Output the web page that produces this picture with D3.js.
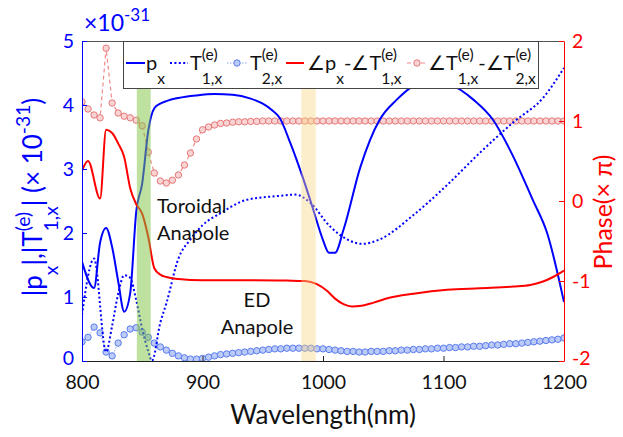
<!DOCTYPE html>
<html><head><meta charset="utf-8">
<script src="https://cdn.jsdelivr.net/npm/d3@7"></script>
<style>body{margin:0;background:#fff} svg{display:block} text{font-family:Lato,'Open Sans',sans-serif;white-space:pre}</style>
</head><body><svg id="c" width="623" height="437"></svg>
<script>
// ---- data ----
const wavelength = d3.range(800, 1201, 5); // 5 nm sampling grid of the marker series
const t2Values = [
  0.30,0.37,0.53,0.44,0.14,0.08,0.28,0.41,0.50,0.52,
  0.45,0.37,0.28,0.22,0.17,0.12,0.08,0.05,0.03,0.03,
  0.04,0.06,0.08,0.10,0.11,0.12,0.13,0.14,0.15,0.16,
  0.17,0.18,0.19,0.19,0.20,0.20,0.20,0.20,0.20,0.19,
  0.19,0.18,0.17,0.16,0.15,0.15,0.14,0.14,0.15,0.15,
  0.15,0.16,0.16,0.17,0.17,0.18,0.18,0.19,0.19,0.20,
  0.20,0.21,0.21,0.22,0.22,0.23,0.23,0.24,0.25,0.25,
  0.26,0.27,0.27,0.28,0.29,0.30,0.31,0.32,0.33,0.34,
  0.36];
const phaseT1T2 = [
  1.24,1.15,1.075,1.04,1.91,1.225,1.10,1.06,1.04,1.01,
  0.94,0.61,0.35,0.25,0.225,0.26,0.325,0.45,0.60,0.775,
  0.89,0.925,0.95,0.97,0.975,0.985,0.99,0.99,0.995,0.995,
  1.00,1.00,1.00,1.00,1.00,1.00,1.00,1.00,1.00,1.00,
  1.00,1.00,1.00,1.00,1.00,1.00,1.00,1.00,1.00,1.00,
  1.00,1.00,1.00,1.00,1.00,1.00,1.00,1.00,1.00,1.00,
  1.00,1.00,1.00,1.00,1.00,1.00,1.00,1.00,1.00,1.00,
  1.00,1.00,1.00,1.00,1.00,1.00,1.00,1.00,1.00,1.00,
  1.00];
const pxWl =     [800,810,815,820,825,830,835,840,845,850,855,860,865,870,880,895,910,925,940,950,957,964,973,983,992,1000,1005,1010,1017,1031,1047,1061,1075,1090,1105,1125,1141,1158,1174,1186,1200];
const pxValues = [1.55,1.14,1.85,2.08,1.78,1.25,0.77,1.06,2.33,2.78,3.6,3.95,4.02,4.06,4.11,4.15,4.17,4.16,4.1,4.02,3.93,3.8,3.4,2.88,2.36,1.89,1.69,1.69,2.05,3.03,3.77,4.08,4.3,4.4,4.33,4.08,3.77,3.19,2.52,2.0,0.92];
const t1Wl =     [800,810,820,825,830,835,840,845,850,855,858,865,870,880,890,900,915,937,964,977,989,1006,1020,1033,1047,1075,1103,1130,1158,1183,1200];
const t1Values = [0.72,1.6,0.14,0.55,1.05,1.34,1.3,0.95,0.5,0.15,0.0,0.6,0.9,1.6,1.9,2.12,2.31,2.52,2.58,2.6,2.48,2.1,1.9,1.83,1.9,2.28,2.75,3.25,3.73,4.12,4.58];
const phPxWl =   [800,805,815,820,825,830,835,840,845,850,855,860,865,870,880,900,940,970,985,995,1003,1010,1017,1024,1032,1042,1055,1075,1103,1130,1158,1172,1182,1191,1200];
const phPxT1 =   [0.38,0.5,0.03,0.89,0.85,0.72,0.55,0.16,-0.04,-0.16,-0.45,-0.84,-0.92,-0.95,-0.975,-0.99,-0.99,-0.995,-1.0,-1.04,-1.12,-1.22,-1.29,-1.32,-1.31,-1.27,-1.21,-1.16,-1.11,-1.09,-1.07,-1.05,-1.01,-0.95,-0.87];
const xTicks = [800,900,1000,1100,1200];
const yLeftTicks = [0,1,2,3,4,5];
const yRightTicks = [-2,-1,0,1,2];
const bandGreen = [845.5, 857];
const bandYellow = [982, 994];

// ---- layout ----
const svg = d3.select('#c');
const M = {l:82, r:564, t:41, b:361};
const x = d3.scaleLinear().domain([800,1200]).range([M.l, M.r]);
const yL = d3.scaleLinear().domain([0,5]).range([M.b, M.t]);
const yR = d3.scaleLinear().domain([-2,2]).range([M.b, M.t]);
const BLUE = '#0000ff', RED = '#ff0000';

const plot = svg.append('g');
plot.append('defs').append('clipPath').attr('id','clip').append('rect')
  .attr('x',M.l).attr('y',M.t).attr('width',M.r-M.l).attr('height',M.b-M.t);
const P = plot.append('g').attr('clip-path','url(#clip)');

// T2 marker series
const t2 = wavelength.map((w,i)=>[w,t2Values[i]]);
P.append('path').datum(t2).attr('fill','none').attr('stroke','#8ea6f2').attr('stroke-width',1)
  .attr('stroke-dasharray','1.5,1.5')
  .attr('d', d3.line().x(d=>x(d[0])).y(d=>yL(d[1])));
P.selectAll('.c2').data(t2).join('circle').attr('cx',d=>x(d[0])).attr('cy',d=>yL(d[1])).attr('r',3.2)
  .attr('fill','#bccbf6').attr('stroke','#5a7cf0').attr('stroke-width',1);

// phase T1-T2 marker series
const ph2 = wavelength.map((w,i)=>[w,phaseT1T2[i]]);
P.append('path').datum(ph2).attr('fill','none').attr('stroke','#f08a8a').attr('stroke-width',1.2)
  .attr('stroke-dasharray','4,3')
  .attr('d', d3.line().x(d=>x(d[0])).y(d=>yR(d[1])));
P.selectAll('.c1').data(ph2).join('circle').attr('cx',d=>x(d[0])).attr('cy',d=>yR(d[1])).attr('r',3.2)
  .attr('fill','#f8d4d4').attr('stroke','#e77878').attr('stroke-width',1);

// T1 dotted
P.append('path').datum(t1Wl.map((w,i)=>[w,t1Values[i]])).attr('fill','none').attr('stroke',BLUE)
  .attr('stroke-width',2).attr('stroke-dasharray','2,2.4')
  .attr('d', d3.line().curve(d3.curveMonotoneX).x(d=>x(d[0])).y(d=>yL(d[1])));
// px solid
P.append('path').datum(pxWl.map((w,i)=>[w,pxValues[i]])).attr('fill','none').attr('stroke',BLUE)
  .attr('stroke-width',2)
  .attr('d', d3.line().curve(d3.curveMonotoneX).x(d=>x(d[0])).y(d=>yL(d[1])));
// phase px - T1
P.append('path').datum(phPxWl.map((w,i)=>[w,phPxT1[i]])).attr('fill','none').attr('stroke',RED)
  .attr('stroke-width',2)
  .attr('d', d3.line().curve(d3.curveMonotoneX).x(d=>x(d[0])).y(d=>yR(d[1])));

// bands (translucent, on top)
P.append('rect').attr('x',x(bandGreen[0])).attr('width',x(bandGreen[1])-x(bandGreen[0]))
  .attr('y',M.t).attr('height',M.b-M.t).attr('fill','rgb(125,195,65)').attr('fill-opacity',0.5);
P.append('rect').attr('x',x(bandYellow[0])).attr('width',x(bandYellow[1])-x(bandYellow[0]))
  .attr('y',M.t).attr('height',M.b-M.t).attr('fill','rgb(251,215,130)').attr('fill-opacity',0.42);

// ---- axes ----
svg.append('line').attr('x1',M.l).attr('x2',M.r).attr('y1',M.t+0.5).attr('y2',M.t+0.5).attr('stroke','#555').attr('stroke-width',1);
const ax = svg.append('g').attr('transform',`translate(0,${M.b})`)
  .call(d3.axisBottom(x).tickValues(xTicks).tickSize(-5).tickSizeOuter(0).tickPadding(14).tickFormat(d=>String(d)));
ax.select('.domain').attr('stroke','#222');
ax.selectAll('line').attr('stroke','#222');
ax.selectAll('text').attr('font-size',19.5).attr('fill','#111').attr('font-family','Lato');

const al = svg.append('g').attr('transform',`translate(${M.l},0)`)
  .call(d3.axisLeft(yL).tickValues(yLeftTicks).tickSize(-5).tickSizeOuter(0).tickPadding(8).tickFormat(d=>String(d)));
al.select('.domain').attr('stroke',BLUE);
al.selectAll('line').attr('stroke',BLUE);
al.selectAll('text').attr('font-size',19.5).attr('fill',BLUE).attr('font-family','Lato');
al.selectAll('.tick').filter(d=>d===0).select('text').attr('dy','0.2em');

const ar = svg.append('g').attr('transform',`translate(${M.r},0)`)
  .call(d3.axisRight(yR).tickValues(yRightTicks).tickSize(-5).tickSizeOuter(0).tickPadding(8).tickFormat(d=>String(d)));
ar.select('.domain').attr('stroke',RED);
ar.selectAll('line').attr('stroke',RED);
ar.selectAll('text').attr('font-size',19.5).attr('fill',RED).attr('font-family','Lato');
ar.selectAll('.tick').filter(d=>d===-2).select('text').attr('dy','0.2em');

// ---- rich text helper ----
function rich(parent, x0, y0, parts, size, color, anchor, supK, subK, ssK){
  supK = supK==null?0.45:supK; subK = subK==null?0.62:subK; ssK = ssK==null?0.74:ssK;
  const g = parent.append('g');
  let cx = 0; const ss = size*ssK;
  parts.forEach(p=>{
    if (typeof p === 'string'){
      const t = g.append('text').attr('x',cx).attr('y',0).attr('font-size',size).attr('fill',color).text(p);
      cx += t.node().getComputedTextLength();
    } else {
      let w = 0;
      if (p.sup!=null){const t=g.append('text').attr('x',cx).attr('y',-size*supK).attr('font-size',ss).attr('fill',color).text(p.sup); w=Math.max(w,t.node().getComputedTextLength());}
      if (p.sub!=null){const t=g.append('text').attr('x',cx).attr('y',size*subK).attr('font-size',ss).attr('fill',color).text(p.sub); w=Math.max(w,t.node().getComputedTextLength());}
      cx += w;
    }
  });
  const dx = anchor==='middle' ? -cx/2 : anchor==='end' ? -cx : 0;
  g.attr('transform',`translate(${x0+dx},${y0})`);
  return g;
}

// ---- legend ----
const lg = svg.append('g');
lg.append('rect').attr('x',123.5).attr('y',41.5).attr('width',415).attr('height',47).attr('fill','#fff').attr('stroke','#444').attr('stroke-width',1);
const ly = 63;
lg.append('line').attr('x1',126).attr('x2',145).attr('y1',ly).attr('y2',ly).attr('stroke',BLUE).attr('stroke-width',2);
lg.append('line').attr('x1',170).attr('x2',188).attr('y1',ly).attr('y2',ly).attr('stroke',BLUE).attr('stroke-width',2).attr('stroke-dasharray','2,2.4');
lg.append('line').attr('x1',227).attr('x2',248).attr('y1',ly).attr('y2',ly).attr('stroke','#8ea6f2').attr('stroke-width',1).attr('stroke-dasharray','1.5,1.5');
lg.append('circle').attr('cx',237).attr('cy',ly).attr('r',3.2).attr('fill','#bccbf6').attr('stroke','#5a7cf0');
lg.append('line').attr('x1',286).attr('x2',304).attr('y1',ly).attr('y2',ly).attr('stroke',RED).attr('stroke-width',2);
lg.append('line').attr('x1',407).attr('x2',427).attr('y1',ly).attr('y2',ly).attr('stroke','#f08a8a').attr('stroke-width',1.2).attr('stroke-dasharray','4,3');
lg.append('circle').attr('cx',417).attr('cy',ly).attr('r',3.2).attr('fill','#f8d4d4').attr('stroke','#e77878');
const LS = 20, LB = 70;
rich(lg,146,LB,['p',{sub:'x'}],LS,'#111','start',0.5,0.72,0.78);
rich(lg,190,LB,['T',{sup:'(e)',sub:'1,x'}],LS,'#111','start',0.5,0.72,0.78);
rich(lg,250,LB,['T',{sup:'(e)',sub:'2,x'}],LS,'#111','start',0.5,0.72,0.78);
rich(lg,307,LB,['∠p',{sub:'x'},'-∠T',{sup:'(e)',sub:'1,x'}],LS,'#111','start',0.5,0.72,0.78);
rich(lg,428,LB,['∠T',{sup:'(e)',sub:'1,x'},'-∠T',{sup:'(e)',sub:'2,x'}],LS,'#111','start',0.5,0.72,0.78);

// ---- titles & annotations ----
rich(svg,84,31,['×10',{sup:'-31'}],23,BLUE,'start',0.45);
const lt = svg.append('g').attr('transform','translate(42,197) rotate(-90)');
rich(lt,0,0,['|p',{sub:'x'},'|,|T',{sup:'(e)',sub:'1,x'},'| (× 10',{sup:'-31'},')'],26,BLUE,'middle');
const rt = svg.append('g').attr('transform','translate(612,212) rotate(-90)');
rich(rt,0,0,['Phase(× π)'],25,RED,'middle');
svg.append('text').attr('x',323).attr('y',424).attr('text-anchor','middle').attr('font-size',26).attr('fill','#111').text('Wavelength(nm)');

svg.append('text').attr('x',157).attr('y',213).attr('font-size',20).attr('fill','#111').text('Toroidal');
svg.append('text').attr('x',157).attr('y',240).attr('font-size',20).attr('fill','#111').text('Anapole');
svg.append('text').attr('x',257).attr('y',307).attr('text-anchor','middle').attr('font-size',20).attr('fill','#111').text('ED');
svg.append('text').attr('x',257).attr('y',334).attr('text-anchor','middle').attr('font-size',20).attr('fill','#111').text('Anapole');
</script></body></html>
